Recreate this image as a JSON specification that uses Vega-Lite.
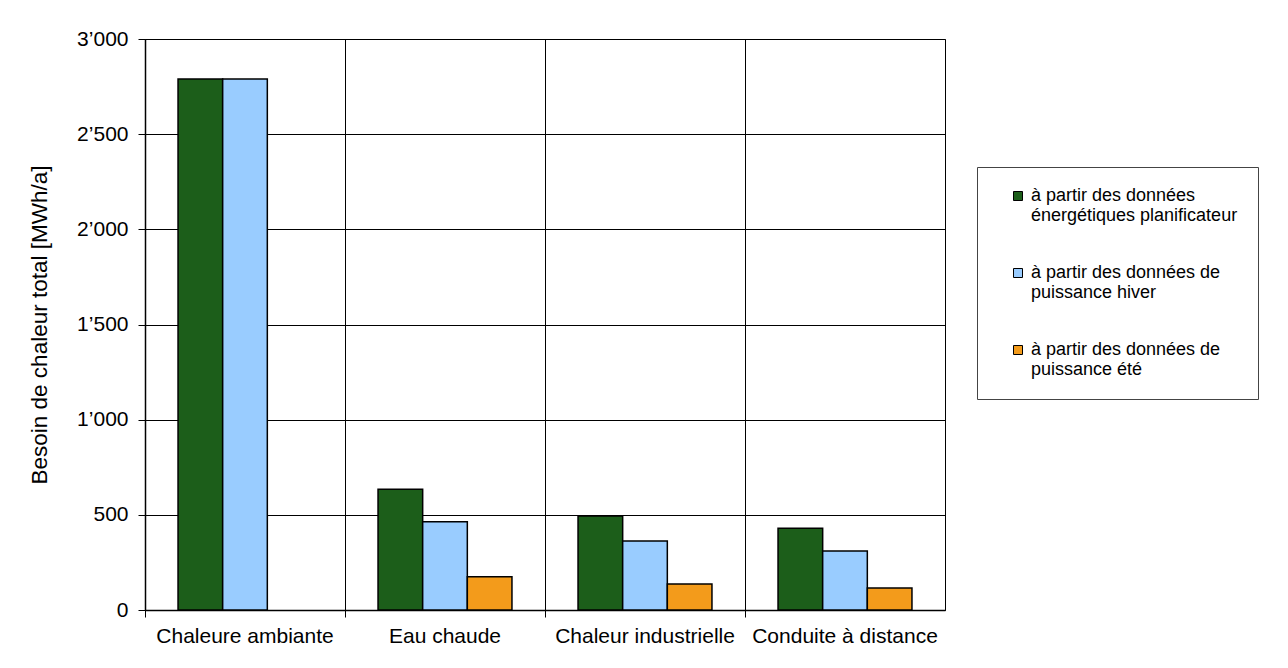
{
  "$schema": "https://vega.github.io/schema/vega-lite/v6.json",
  "width": 800,
  "height": 571,
  "autosize": "none",
  "padding": {"left": 145, "top": 39, "right": 343, "bottom": 58},
  "background": "white",
  "data": {
    "values": [
      {"categorie": "Chaleure ambiante", "source": "planificateur", "valeur": 2790},
      {"categorie": "Chaleure ambiante", "source": "hiver", "valeur": 2790},
      {"categorie": "Eau chaude", "source": "planificateur", "valeur": 634},
      {"categorie": "Eau chaude", "source": "hiver", "valeur": 464},
      {"categorie": "Eau chaude", "source": "ete", "valeur": 175},
      {"categorie": "Chaleur industrielle", "source": "planificateur", "valeur": 494},
      {"categorie": "Chaleur industrielle", "source": "hiver", "valeur": 363},
      {"categorie": "Chaleur industrielle", "source": "ete", "valeur": 137},
      {"categorie": "Conduite à distance", "source": "planificateur", "valeur": 430},
      {"categorie": "Conduite à distance", "source": "hiver", "valeur": 310},
      {"categorie": "Conduite à distance", "source": "ete", "valeur": 116}
    ]
  },
  "mark": {"type": "bar", "stroke": "black", "strokeWidth": 1.5},
  "encoding": {
    "x": {
      "field": "categorie",
      "type": "nominal",
      "sort": ["Chaleure ambiante", "Eau chaude", "Chaleur industrielle", "Conduite à distance"],
      "scale": {"paddingInner": 0, "paddingOuter": 0},
      "axis": {
        "title": null,
        "bandPosition": 0,
        "labelAngle": 0,
        "labelFontSize": 21,
        "labelFont": "Liberation Sans",
        "labelColor": "black",
        "labelPadding": 8,
        "labelLimit": 300,
        "grid": true,
        "gridColor": "black",
        "gridOpacity": 1,
        "gridWidth": 1,
        "tickColor": "black",
        "tickSize": 7,
        "domainColor": "black",
        "domainWidth": 1.5
      }
    },
    "xOffset": {
      "field": "source",
      "type": "nominal",
      "sort": ["planificateur", "hiver", "ete"],
      "scale": {"paddingInner": 0, "paddingOuter": 0.74}
    },
    "y": {
      "field": "valeur",
      "type": "quantitative",
      "scale": {"domain": [0, 3000], "nice": false},
      "axis": {
        "title": "Besoin de chaleur total [MWh/a]",
        "titleFont": "Liberation Sans",
        "titleFontSize": 22.5,
        "titleFontWeight": "normal",
        "titleColor": "black",
        "titlePadding": 25,
        "values": [0, 500, 1000, 1500, 2000, 2500, 3000],
        "labelExpr": "replace(format(datum.value, ','), ',', '’')",
        "labelFontSize": 21,
        "labelFont": "Liberation Sans",
        "labelColor": "black",
        "labelPadding": 10,
        "grid": true,
        "gridColor": "black",
        "gridOpacity": 1,
        "gridWidth": 1,
        "tickColor": "black",
        "tickSize": 7,
        "domainColor": "black",
        "domainWidth": 1.5
      }
    },
    "color": {
      "field": "source",
      "type": "nominal",
      "sort": ["planificateur", "hiver", "ete"],
      "scale": {
        "domain": ["planificateur", "hiver", "ete"],
        "range": ["#1c5e1a", "#99ccff", "#f39b1b"]
      },
      "legend": {
        "title": null,
        "orient": "none",
        "legendX": 832,
        "legendY": 128,
        "strokeColor": "#444444",
        "fillColor": "white",
        "padding": 20,
        "symbolOffset": 12,
        "symbolType": "square",
        "symbolSize": 81,
        "symbolStrokeColor": "black",
        "symbolStrokeWidth": 1,
        "labelFont": "Liberation Sans",
        "labelFontSize": 18,
        "labelColor": "black",
        "labelLimit": 400,
        "labelOffset": 4,
        "rowPadding": 39,
        "labelExpr": "datum.value == 'planificateur' ? ['à partir des données', 'énergétiques planificateur'] : datum.value == 'hiver' ? ['à partir des données de', 'puissance hiver'] : ['à partir des données de', 'puissance été']"
      }
    }
  },
  "config": {
    "view": {"stroke": "black", "strokeWidth": 1}
  }
}
